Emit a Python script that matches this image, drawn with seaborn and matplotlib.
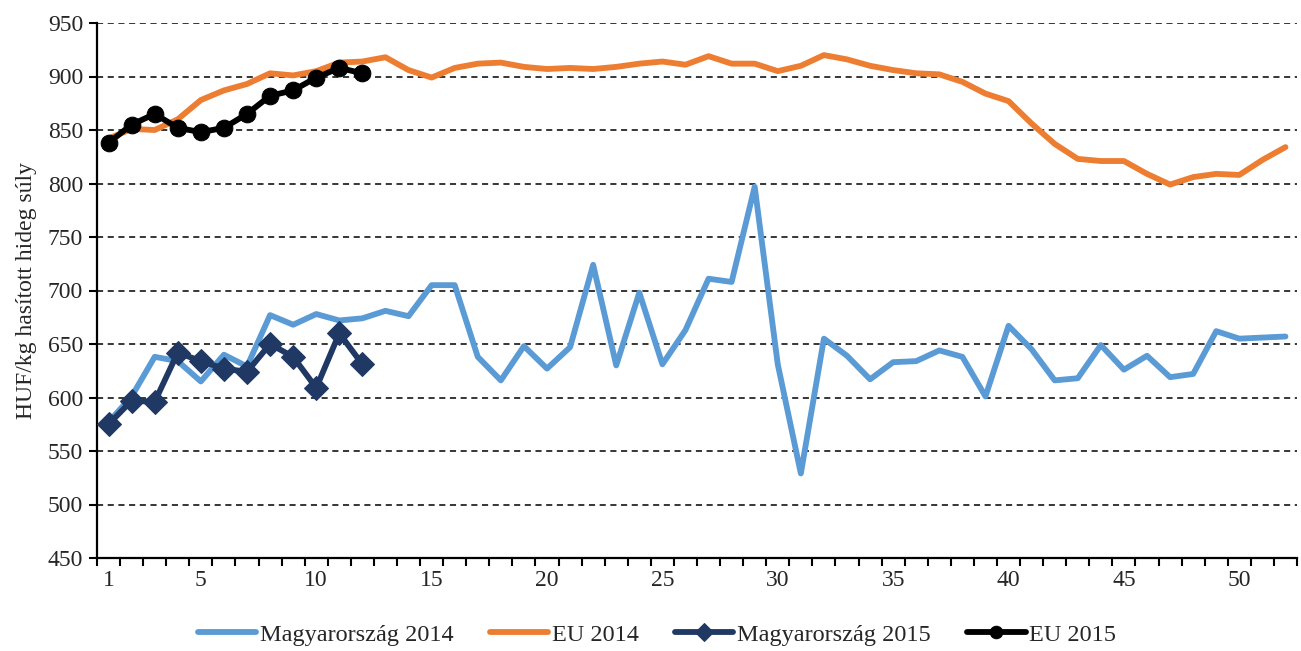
import numpy as np
import pandas as pd
import matplotlib
matplotlib.use("Agg")
import matplotlib.pyplot as plt
import seaborn as sns
from matplotlib.ticker import FixedLocator

# ---- data ----
weeks_2014 = list(range(1, 53))
weeks_2015 = list(range(1, 13))
hu_2014 = [577, 601, 638, 634, 615, 640, 629, 677, 668, 678, 672, 674, 681, 676,
           705, 705, 638, 616, 648, 627, 647, 724, 630, 698, 631, 663, 711, 708,
           797, 631, 529, 655, 639, 617, 633, 634, 644, 638, 601, 667, 645, 616,
           618, 649, 626, 639, 619, 622, 662, 655, 656, 657]
eu_2014 = [842, 851, 850, 860, 878, 887, 893, 903, 901, 905, 913, 914, 918, 906,
           899, 908, 912, 913, 909, 907, 908, 907, 909, 912, 914, 911, 919, 912,
           912, 905, 910, 920, 916, 910, 906, 903, 902, 895, 884, 877, 856, 837,
           823, 821, 821, 809, 799, 806, 809, 808, 822, 834]
hu_2015 = [575, 597, 596, 642, 634, 627, 624, 650, 638, 609, 660, 631]
eu_2015 = [838, 855, 865, 852, 848, 852, 865, 882, 887, 899, 908, 903]
series_names = ["Magyarország 2014", "EU 2014", "Magyarország 2015", "EU 2015"]
x_tick_labels = [1, 5, 10, 15, 20, 25, 30, 35, 40, 45, 50]
y_ticks = list(range(450, 951, 50))
y_label = "HUF/kg hasított hideg súly"

# ---- style ----
sns.set_style("white")
plt.rcParams["font.family"] = ["Liberation Serif", "DejaVu Serif"]
plt.rcParams["font.size"] = 17

fig = plt.figure(figsize=(13.01, 6.51), dpi=100)
ax = fig.add_axes([97 / 1301, 1 - 558 / 651, 1200 / 1301, 535 / 651])

df14 = pd.DataFrame({"week": weeks_2014, "hu": hu_2014, "eu": eu_2014})
df15 = pd.DataFrame({"week": weeks_2015, "hu": hu_2015, "eu": eu_2015})

colors = ["#5B9BD5", "#ED7D31", "#1F3864", "#000000"]
lw = 4.2

# gridlines
for yv in y_ticks[1:]:
    ax.axhline(yv, color="black", lw=1.1, ls=(0, (4, 3)), zorder=1)

sns.lineplot(data=df14, x="week", y="hu", ax=ax, color=colors[0], lw=lw,
             label=series_names[0], zorder=3, solid_capstyle="round")
sns.lineplot(data=df14, x="week", y="eu", ax=ax, color=colors[1], lw=lw,
             label=series_names[1], zorder=3, solid_capstyle="round")
sns.lineplot(data=df15, x="week", y="hu", ax=ax, color=colors[2], lw=lw,
             marker="D", markersize=12, markeredgecolor=colors[2],
             label=series_names[2], zorder=4)
sns.lineplot(data=df15, x="week", y="eu", ax=ax, color=colors[3], lw=lw,
             marker="o", markersize=12, markeredgecolor=colors[3],
             label=series_names[3], zorder=5)

ax.set_xlim(0.5, 52.5)
ax.set_ylim(450, 950)
ax.set_yticks(y_ticks)
ax.xaxis.set_major_locator(FixedLocator(x_tick_labels))
ax.set_xticklabels([str(v) for v in x_tick_labels])
ax.xaxis.set_minor_locator(FixedLocator(np.arange(0.5, 53, 1.0)))
ax.tick_params(axis="x", which="major", length=0, pad=9, labelsize=17)
ax.tick_params(axis="x", which="minor", length=6, width=1.5, direction="out",
               color="black", bottom=True)
ax.tick_params(axis="y", which="major", length=6, width=1.5, direction="out",
               color="black", pad=4, labelsize=17, left=True)

for s in ["top", "right"]:
    ax.spines[s].set_visible(False)
for s in ["left", "bottom"]:
    ax.spines[s].set_color("black")
    ax.spines[s].set_linewidth(1.6)

ax.set_xlabel("")
ax.set_ylabel(y_label, fontsize=17, labelpad=8)
ax.grid(False)

ax.get_legend().remove()
handles, labels = ax.get_legend_handles_labels()
fig.legend(handles, labels, loc="center", bbox_to_anchor=(0.505, 0.025),
           ncol=4, frameon=False, fontsize=17.5, handlelength=2.4,
           handletextpad=0.15, columnspacing=1.5, markerscale=0.75)

fig.savefig("out.png", dpi=100, facecolor="white")
